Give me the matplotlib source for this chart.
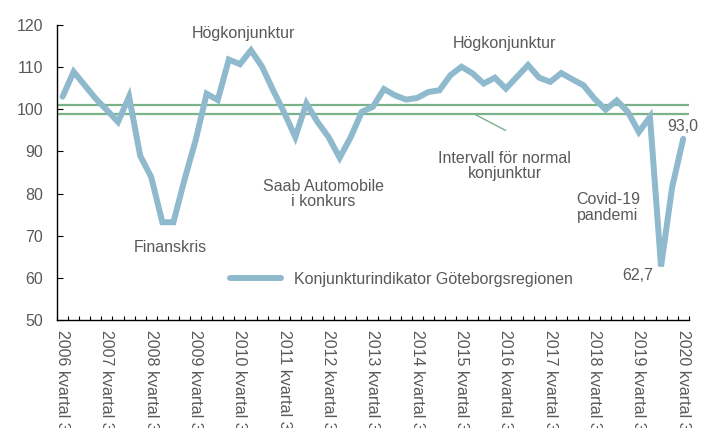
import matplotlib
matplotlib.use("Agg")
import matplotlib.pyplot as plt
import numpy as np

plt.rcParams['font.family'] = ['Liberation Sans', 'DejaVu Sans']

# Konjunkturindikator, kvartal 3 2006 - kvartal 3 2020
values = [103.0, 108.9, 105.7, 102.5, 99.8, 97.0, 103.0, 89.0, 83.9, 73.2,
          73.2, 83.3, 92.6, 103.7, 102.2, 111.8, 110.7, 114.0, 110.1, 104.5,
          99.2, 93.4, 101.4, 97.0, 93.4, 88.5, 93.4, 99.4, 100.6, 104.8,
          103.3, 102.3, 102.7, 104.1, 104.5, 108.1, 110.1, 108.5, 106.1, 107.5,
          104.9, 107.7, 110.5, 107.5, 106.5, 108.6, 107.1, 105.7, 102.5, 99.9,
          102.1, 99.4, 94.6, 98.2, 62.7, 81.5, 93.0]
years = list(range(2006, 2021))
tick_labels = [f"{y} kvartal 3" for y in years]
normal_low = 99.0
normal_high = 101.0

line_color = '#8fb9cc'
green = '#7ab28a'
text_color = '#595959'
fs = 11.5

fig = plt.figure(figsize=(7.13, 4.28), dpi=100)
ax = fig.add_axes([0.080, 0.2523, 0.886, 0.6893])

x = np.arange(len(values))
ax.axhline(normal_high, color=green, lw=1.6, zorder=1)
ax.axhline(normal_low, color=green, lw=1.6, zorder=1)
ax.plot(x, values, color=line_color, lw=4.3, solid_joinstyle='miter',
        solid_capstyle='round', zorder=2,
        label='Konjunkturindikator Göteborgsregionen')

ax.set_xlim(-0.5, len(values) - 0.5)
ax.set_ylim(50, 120)
ax.set_yticks(range(50, 121, 10))
ax.set_xticks(x[::4])
ax.set_xticklabels(tick_labels, rotation=270, va='top', ha='center')
ax.set_xticks(np.arange(-0.5, len(values), 1), minor=True)
ax.tick_params(axis='x', which='major', length=0, pad=7, labelsize=fs,
               labelcolor=text_color)
ax.tick_params(axis='x', which='minor', direction='in', length=3, width=0.8)
ax.tick_params(axis='y', direction='in', length=4, width=0.8, pad=10,
               labelsize=fs, labelcolor=text_color)

for s in ['top', 'right']:
    ax.spines[s].set_visible(False)
for s in ['left', 'bottom']:
    ax.spines[s].set_linewidth(1.0)

kw = dict(color=text_color, fontsize=fs, ha='center', va='center')
ax.text(16.3, 117.9, 'Högkonjunktur', **kw)
ax.text(39.9, 115.7, 'Högkonjunktur', **kw)
ax.text(9.7, 67.1, 'Finanskris', **kw)
ax.text(23.5, 79.9, 'Saab Automobile\ni konkurs', linespacing=1.05, **kw)
ax.text(39.9, 86.5, 'Intervall för normal\nkonjunktur', linespacing=1.05, **kw)
ax.text(49.2, 76.7, 'Covid-19\npandemi', linespacing=1.05, **kw)
ax.text(51.9, 60.5, '62,7', **kw)
ax.text(56.0, 95.9, '93,0', **kw)
ax.plot([37.2, 39.96], [98.8, 95.0], color=green, lw=1.0, zorder=1)

ax.legend(loc='center left', bbox_to_anchor=(0.274, 0.139), frameon=False,
          borderpad=0, borderaxespad=0, handlelength=3.2, handletextpad=0.8,
          fontsize=fs, labelcolor=text_color)

fig.savefig('out.png', dpi=100)
